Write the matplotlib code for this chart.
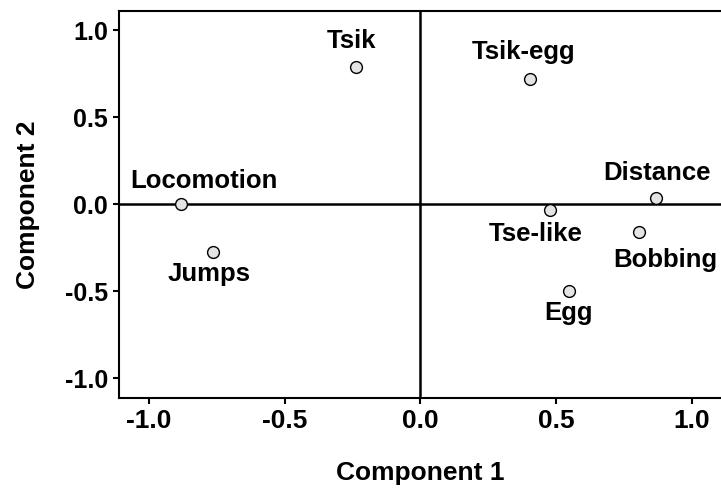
import numpy as np
import matplotlib.pyplot as plt

plt.rcParams['font.family'] = ['Liberation Sans', 'DejaVu Sans']
plt.rcParams['font.weight'] = 'bold'

# PCA loadings
names = ['Tsik', 'Tsik-egg', 'Locomotion', 'Jumps', 'Distance', 'Tse-like', 'Bobbing', 'Egg']
comp1 = [-0.238, 0.402, -0.880, -0.764, 0.869, 0.477, 0.805, 0.549]
comp2 = [0.788, 0.718, 0.000, -0.276, 0.034, -0.034, -0.161, -0.500]
# label baseline offsets from the marker, pixels (dx, dy)
offsets = [(-4, 19), (-6, 20), (23, 16), (-4, -29), (1, 18), (-14, -31), (26, -35), (-1, -29)]

ticks = [-1.0, -0.5, 0.0, 0.5, 1.0]

fig = plt.figure(figsize=(7.21, 4.91), dpi=100)
ax = fig.add_axes([0.165, 0.189, 0.835, 0.789])

ax.axhline(0, color='black', lw=1.8, zorder=1)
ax.axvline(0, color='black', lw=1.8, zorder=1)
ax.plot(comp1, comp2, 'o', ms=8.5, mfc='#e4e4e4', mec='black', mew=1.0, zorder=3)

for x, y, s, (dx, dy) in zip(comp1, comp2, names, offsets):
    ax.annotate(s, (x, y), xytext=(dx, dy), textcoords='offset pixels',
                ha='center', va='baseline', fontsize=18.5, fontweight='bold')

ax.set_xlim(-1.11, 1.107)
ax.set_ylim(-1.115, 1.112)
ax.set_xticks(ticks)
ax.set_yticks(ticks)
ax.set_xticklabels(['%.1f' % t for t in ticks])
ax.set_yticklabels(['%.1f' % t for t in ticks])
ax.tick_params(direction='out', length=4, width=1.5, pad=4)
ax.tick_params(axis='x', labelsize=19)
ax.tick_params(axis='y', labelsize=18)
ax.spines['right'].set_visible(False)
for sp in ['left', 'top', 'bottom']:
    ax.spines[sp].set_linewidth(1.5)

ax.set_xlabel('Component 1', fontsize=19, fontweight='bold', labelpad=20)
ax.set_ylabel('Component 2', fontsize=19, fontweight='bold', labelpad=18)

fig.savefig('out.png', dpi=100)
